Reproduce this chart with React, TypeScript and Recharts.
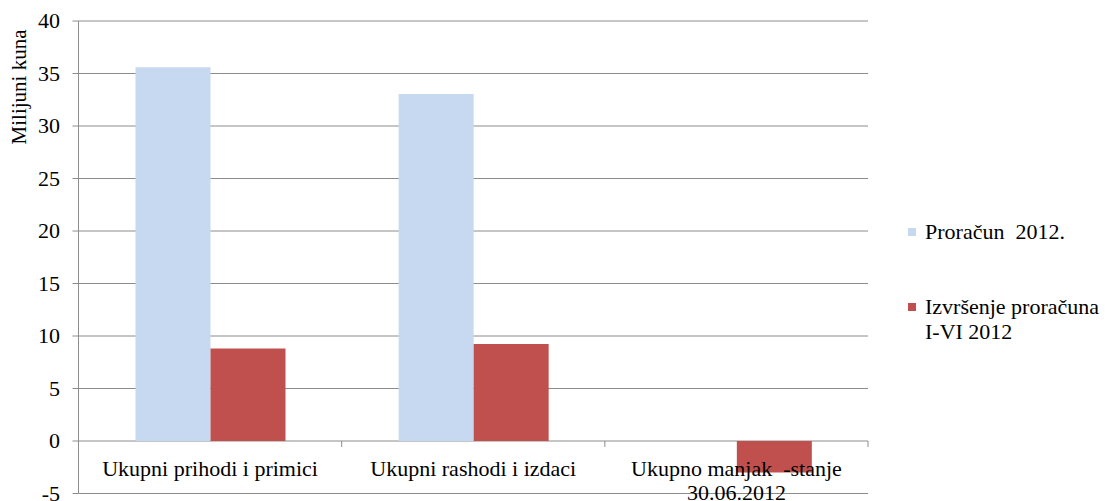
import React from 'react';
import { BarChart, Bar, XAxis, YAxis, CartesianGrid, ReferenceLine, Legend } from 'recharts';

const categories = ['Ukupni prihodi i primici', 'Ukupni rashodi i izdaci', 'Ukupno manjak  -stanje\n30.06.2012'];
const budget2012 = [35.6, 33.05, 0];
const execution2012 = [8.8, 9.25, -3.0];
const yTicks = [-5, 0, 5, 10, 15, 20, 25, 30, 35, 40];
const seriesNames = ['Proračun  2012.', 'Izvršenje proračuna\nI-VI 2012'];
const seriesColors = ['#C6D9F1', '#C0504D'];
const yAxisTitle = 'Milijuni kuna';

const data = categories.map((name, i) => ({ name, budget: budget2012[i], execution: execution2012[i] }));

const FONT = "'Liberation Serif', 'Times New Roman', serif";
const GRID = '#8c8c8c';

const CategoryLabels = (props: any) => {
  const vb = props.viewBox || {};
  const x = vb.x || 0;
  const y = vb.y || 0;
  const width = vb.width || 0;
  const step = width / categories.length;
  return (
    <g>
      {categories.map((_, i) => (
        <line key={'t' + i} x1={x + step * (i + 1)} x2={x + step * (i + 1)} y1={y} y2={y + 6} stroke={GRID} strokeWidth={1} />
      ))}
      {categories.map((c, i) => (
        <text key={i} x={x + step * (i + 0.5)} y={y + 35} textAnchor="middle" fontSize={22} fontFamily={FONT} fill="#000" style={{ whiteSpace: 'pre' }}>
          {c.split('\n').map((line, j) => (
            <tspan key={j} x={x + step * (i + 0.5)} dy={j === 0 ? 0 : 24}>{line}</tspan>
          ))}
        </text>
      ))}
    </g>
  );
};

const YTick = (props: any) => {
  const { x, y, payload } = props;
  return (
    <text x={x} y={y} dy={7} textAnchor="end" fontSize={22} fontFamily={FONT} fill="#000">
      {payload.value}
    </text>
  );
};

const YTitle = (props: any) => {
  const vb = props.viewBox || {};
  const top = vb.y || 0;
  const cx = 26;
  const cy = top + 66;
  return (
    <text x={cx} y={cy} transform={`rotate(-90, ${cx}, ${cy})`} textAnchor="middle" fontSize={21} fontFamily={FONT} fill="#000">
      {yAxisTitle}
    </text>
  );
};

const LegendContent = () => (
  <div style={{ position: 'relative', fontFamily: FONT, fontSize: 22, lineHeight: '25px', color: '#000' }}>
    {seriesNames.map((n, i) => (
      <div key={i} style={{ position: 'absolute', left: 0, top: i * 75, whiteSpace: 'pre', width: 200, fontFamily: FONT }}>
        <span style={{ position: 'absolute', left: 0, top: 9, width: 8, height: 8, background: seriesColors[i] }} />
        <div style={{ marginLeft: 17, fontFamily: FONT }}>{n}</div>
      </div>
    ))}
  </div>
);

export default function App() {
  return (
    <div style={{ position: 'absolute', left: 0, top: 0, width: 1109, height: 501, background: '#fff', fontFamily: FONT }}>
      <BarChart
        width={1109}
        height={501}
        data={data}
        margin={{ top: 21, right: 241, bottom: 7.5, left: 0 }}
        barSize={75}
        barGap={0}
        style={{ fontFamily: FONT }}
      >
        <CartesianGrid vertical={false} stroke={GRID} strokeWidth={1} />
        <XAxis dataKey="name" hide />
        <YAxis
          domain={[-5, 40]}
          ticks={yTicks}
          interval={0}
          width={78.5}
          stroke={GRID}
          tickSize={6}
          tickMargin={12.5}
          tick={<YTick />}
          label={<YTitle />}
        />
        <Bar dataKey="budget" name={seriesNames[0]} fill={seriesColors[0]} isAnimationActive={false} />
        <Bar dataKey="execution" name={seriesNames[1]} fill={seriesColors[1]} isAnimationActive={false} />
        <ReferenceLine y={0} stroke="none" ifOverflow="visible" label={<CategoryLabels />} />
        <Legend
          layout="horizontal"
          align="center"
          verticalAlign="middle"
          content={<LegendContent />}
          wrapperStyle={{ left: 908, top: 219, width: 200, height: 110, fontFamily: FONT }}
        />
      </BarChart>
    </div>
  );
}
